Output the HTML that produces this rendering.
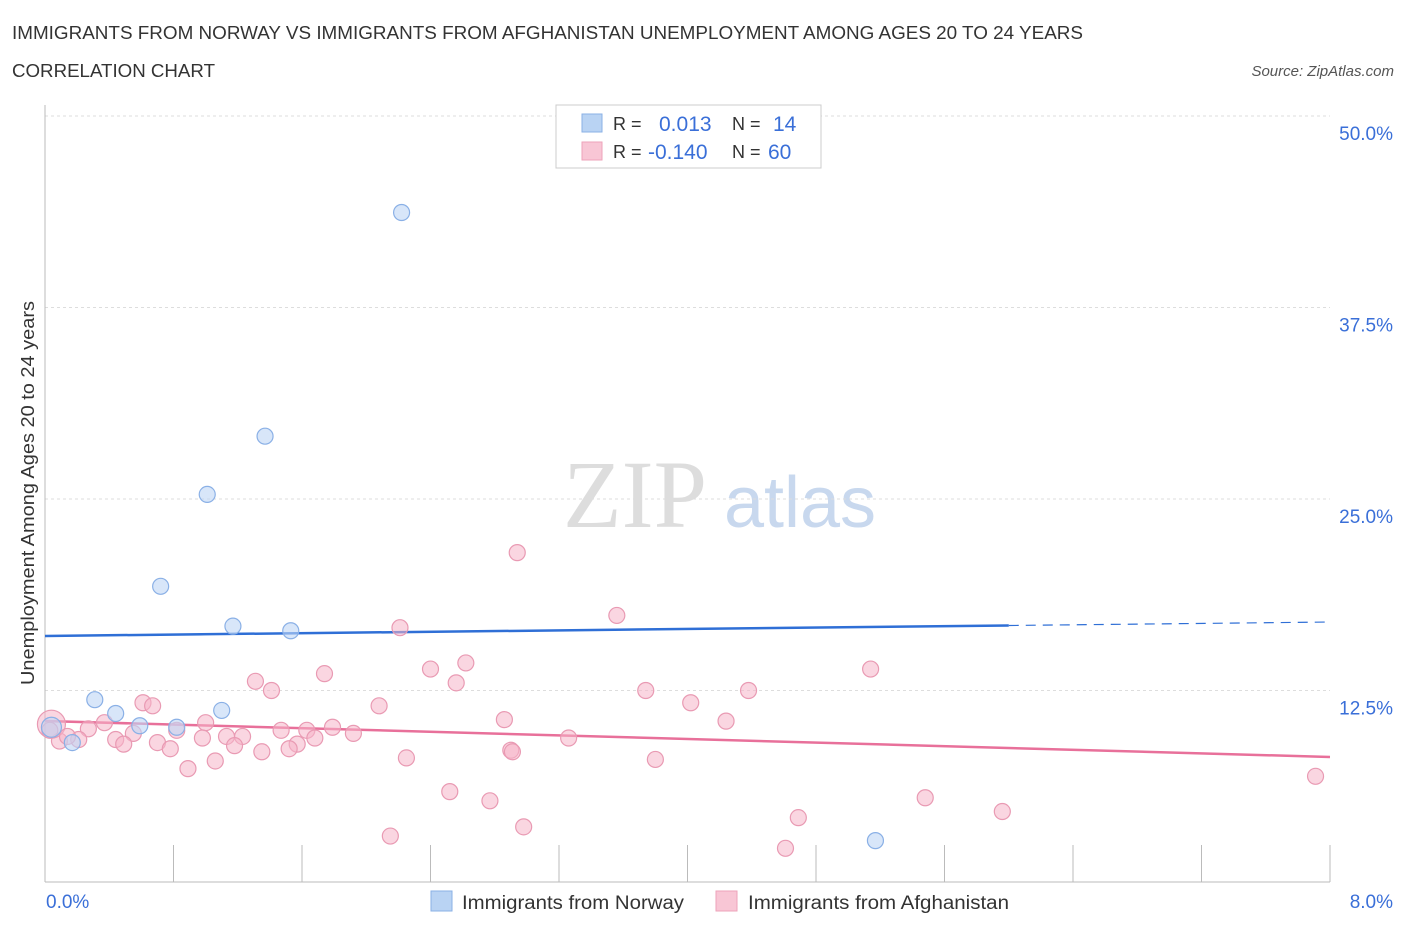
<!DOCTYPE html>
<html><head><meta charset="utf-8"><style>
body{margin:0;background:#fff;font-family:"Liberation Sans",sans-serif;}
</style></head><body>
<svg width="1406" height="930" viewBox="0 0 1406 930" xmlns="http://www.w3.org/2000/svg">
<text x="12" y="39" font-size="18" fill="#333" textLength="1071" lengthAdjust="spacingAndGlyphs">IMMIGRANTS FROM NORWAY VS IMMIGRANTS FROM AFGHANISTAN UNEMPLOYMENT AMONG AGES 20 TO 24 YEARS</text>
<text x="12" y="77" font-size="18" fill="#333" textLength="203" lengthAdjust="spacingAndGlyphs">CORRELATION CHART</text>
<text x="1394" y="76" font-size="15" fill="#555" font-style="italic" text-anchor="end">Source: ZipAtlas.com</text>
<text x="635" y="527" font-size="96" fill="#ddd" font-family="Liberation Serif,serif" text-anchor="middle">ZIP</text>
<text x="800" y="527" font-size="72" fill="#c8d8ee" text-anchor="middle">atlas</text>
<g id="grid"></g>
<line x1="45" y1="105" x2="45" y2="882" stroke="#bbb"/>
<line x1="45" y1="882" x2="1330" y2="882" stroke="#bbb"/>
<g id="ticks"></g>
<text transform="translate(34,493) rotate(-90)" font-size="18" fill="#333" text-anchor="middle" textLength="384" lengthAdjust="spacingAndGlyphs">Unemployment Among Ages 20 to 24 years</text>
<text x="46" y="908" font-size="19" fill="#3a6fd8">0.0%</text>
<text x="1393" y="908" font-size="19" fill="#3a6fd8" text-anchor="end">8.0%</text>
<g id="trends"></g>
<g id="pts"></g>
<g>
<rect x="556" y="105" width="265" height="63" fill="#fff" stroke="#ccc"/>
<rect x="582" y="114" width="20" height="18" fill="#b9d3f3" stroke="#8ab0e6"/>
<rect x="582" y="142" width="20" height="18" fill="#f8c6d5" stroke="#eea3ba"/>
<text x="613" y="130" font-size="18" fill="#333">R =</text><text x="659" y="131" font-size="21" fill="#3a6fd8">0.013</text>
<text x="732" y="130" font-size="18" fill="#333">N =</text><text x="773" y="131" font-size="21" fill="#3a6fd8">14</text>
<text x="613" y="158" font-size="18" fill="#333">R =</text><text x="648" y="159" font-size="21" fill="#3a6fd8">-0.140</text>
<text x="732" y="158" font-size="18" fill="#333">N =</text><text x="768" y="159" font-size="21" fill="#3a6fd8">60</text>
</g>
<g>
<rect x="431" y="891" width="21" height="20" fill="#b9d3f3" stroke="#8ab0e6"/>
<text x="462" y="909" font-size="19" fill="#333" textLength="222" lengthAdjust="spacingAndGlyphs">Immigrants from Norway</text>
<rect x="716" y="891" width="21" height="20" fill="#f8c6d5" stroke="#eea3ba"/>
<text x="748" y="909" font-size="19" fill="#333" textLength="261" lengthAdjust="spacingAndGlyphs">Immigrants from Afghanistan</text>
</g>
</svg>
<script>
const yTicks=[12.5,25,37.5,50];
const yTickLabels=["12.5%","25.0%","37.5%","50.0%"];
const xTicks=[0,0.8,1.6,2.4,3.2,4.0,4.8,5.6,6.4,7.2,8.0];
const norwayX=[2.22,1.37,1.01,0.72,1.17,1.53,0.31,0.44,0.59,0.82,1.10,0.17,0.04,5.17];
const norwayY=[43.7,29.1,25.3,19.3,16.7,16.4,11.9,11.0,10.2,10.1,11.2,9.1,10.1,2.7];
const afgX=[2.94,3.56,2.21,2.62,2.40,5.14,1.74,2.56,1.31,1.41,3.74,4.38,4.02,2.08,0.61,0.67,2.86,4.24,1.00,0.37,1.79,1.63,1.47,0.27,1.92,0.82,0.55,1.68,1.23,1.13,0.98,3.26,0.44,0.21,0.09,0.70,0.49,1.18,1.57,1.52,0.78,2.90,1.35,2.91,2.25,1.06,3.80,0.89,7.91,2.52,5.48,2.77,5.96,4.69,2.98,2.15,4.61,0.04,0.03,0.14];
const afgY=[21.5,17.4,16.6,14.3,13.9,13.9,13.6,13.0,13.1,12.5,12.5,12.5,11.7,11.5,11.7,11.5,10.6,10.5,10.4,10.4,10.1,9.9,9.9,10.0,9.7,9.9,9.7,9.4,9.5,9.5,9.4,9.4,9.3,9.3,9.2,9.1,9.0,8.9,9.0,8.7,8.7,8.6,8.5,8.5,8.1,7.9,8.0,7.4,6.9,5.9,5.5,5.3,4.6,4.2,3.6,3.0,2.2,10.3,9.9,9.5];
const norwayTrend=[16.06,16.97];
const afgTrend=[10.51,8.16];
const NS="http://www.w3.org/2000/svg";
const X=v=>45+v/8*1285, Y=v=>882-v/12.5*191.5;
function mk(t,a,p){const e=document.createElementNS(NS,t);for(const k in a)e.setAttribute(k,a[k]);p.appendChild(e);return e;}
const grid=document.getElementById('grid'),ticks=document.getElementById('ticks'),pts=document.getElementById('pts'),tr=document.getElementById('trends');
yTicks.forEach((v,i)=>{
 const l=mk('line',{x1:45,x2:1330,y1:Y(v),y2:Y(v),stroke:'#ddd','stroke-dasharray':'3,3'},grid);
 
 
 const t=mk('text',{x:1393,y:Y(v)+24,'font-size':19,fill:'#3a6fd8','text-anchor':'end'},grid);
 t.textContent=yTickLabels[i];
 
 
});
xTicks.forEach(v=>{
 const l=mk('line',{x1:X(v),x2:X(v),y1:845,y2:882,stroke:'#bbb'},ticks);
 
 
});
const b1=mk('line',{x1:X(0),y1:Y(norwayTrend[0]),x2:X(6),y2:Y(norwayTrend[0]+(norwayTrend[1]-norwayTrend[0])*0.75),stroke:'#2f6fd6','stroke-width':2.5},tr);


const b2=mk('line',{x1:X(6),y1:Y(norwayTrend[0]+(norwayTrend[1]-norwayTrend[0])*0.75),x2:X(8),y2:Y(norwayTrend[1]),stroke:'#2f6fd6','stroke-width':1.2,'stroke-dasharray':'10,7'},tr);


const p1=mk('line',{x1:X(0),y1:Y(afgTrend[0]),x2:X(8),y2:Y(afgTrend[1]),stroke:'#e8709a','stroke-width':2.5},tr);


afgX.forEach((x,i)=>{
 const c=mk('circle',{cx:X(x),cy:Y(afgY[i]),r:i==57?14:8,fill:'rgba(246,180,200,0.55)',stroke:'#e99ab3','stroke-width':1.2},pts);
 
 
});
norwayX.forEach((x,i)=>{
 const c=mk('circle',{cx:X(x),cy:Y(norwayY[i]),r:i==12?10:8,fill:'rgba(190,214,245,0.6)',stroke:'#8ab0e6','stroke-width':1.2},pts);
 
 
});
</script>
</body></html>
